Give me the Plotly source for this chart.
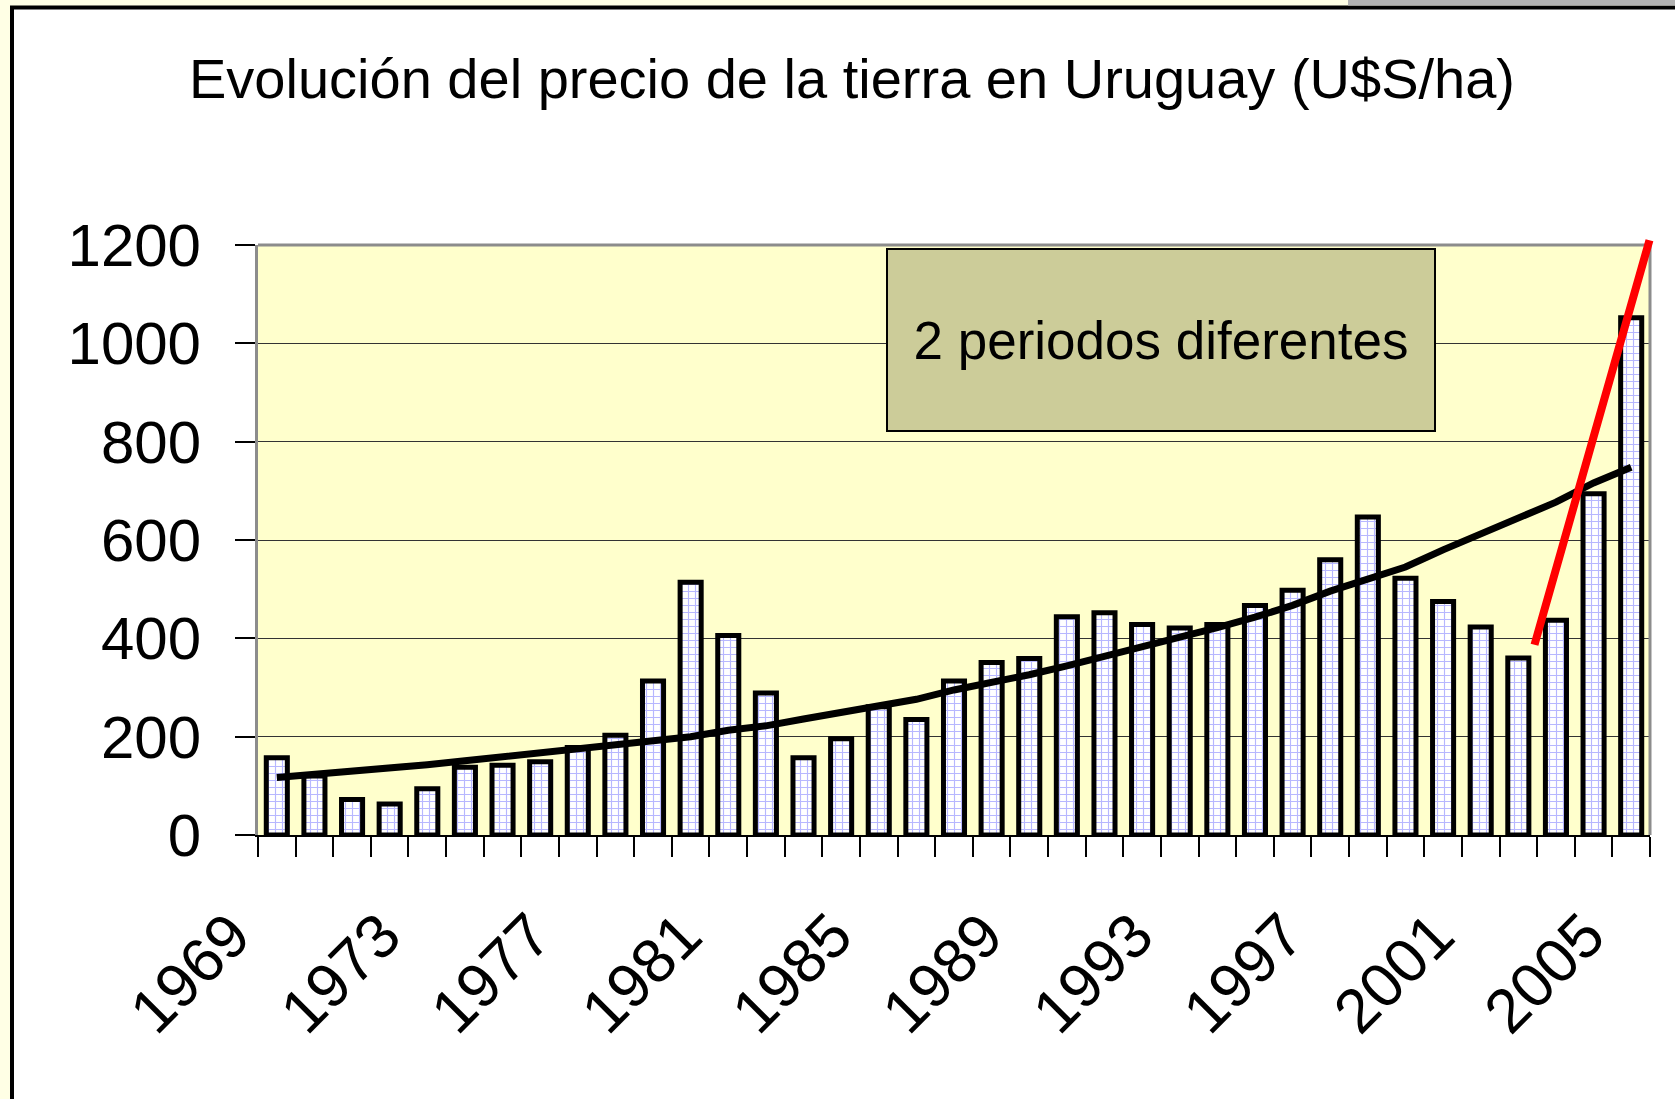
import plotly.graph_objects as go

# ---- data ----
years = list(range(1969, 2006))
precio = [157, 120, 72, 63, 94, 138, 142, 149, 178, 203,
          313, 514, 406, 289, 157, 196, 261, 235, 313, 351,
          359, 444, 452, 428, 421, 428, 467, 498, 560, 647,
          522, 475, 423, 360, 437, 694, 1052]
tendencia = [117, 123, 130, 137, 143, 151, 159, 167, 175, 184,
             189, 200, 213, 222, 236, 250, 264, 276, 295, 310,
             326, 344, 363, 382, 403, 422, 443, 467, 496, 521,
             545, 580, 612, 643, 677, 716, 748]
label_years = list(range(1969, 2006, 4))
y_ticks = [0, 200, 400, 600, 800, 1000, 1200]
red_x = [2002.43, 2005.55]
red_y = [387, 1227]

title = "Evolución del precio de la tierra en Uruguay (U$S/ha)"
box_text = "2 periodos diferentes"

W, H = 1675, 1099
ML, MR, MT, MB = 258, 25, 245, 264
PW, PH = W - ML - MR, H - MT - MB


def px(x):
    return (x - ML) / PW


def py(y):
    return (H - MB - y) / PH


FONT = "Liberation Sans, Arial, sans-serif"

fig = go.Figure()
fig.add_trace(go.Bar(
    x=years, y=precio,
    marker=dict(
        color="white",
        line=dict(color="black", width=5),
        pattern=dict(shape="+", fgcolor="#6f6fff", bgcolor="white",
                     size=7, solidity=0.3),
    ),
    showlegend=False,
))
fig.add_trace(go.Scatter(
    x=years, y=tendencia, mode="lines",
    line=dict(color="black", width=7),
    showlegend=False,
))

shapes = [
    # slide frame
    dict(type="rect", xref="paper", yref="paper", layer="below",
         x0=px(12), x1=px(1720), y0=py(1200), y1=py(7.5),
         fillcolor="white", line=dict(color="black", width=4)),
    # grey strip top right
    dict(type="rect", xref="paper", yref="paper", layer="below",
         x0=px(1348), x1=px(1720), y0=py(5.5), y1=py(-20),
         fillcolor="#B2B2B2", line=dict(width=0)),
    # plot area fill
    dict(type="rect", xref="paper", yref="paper", layer="below",
         x0=0, x1=1, y0=0, y1=1,
         fillcolor="#FFFFCC", line=dict(width=0)),
    # plot area grey border (top + right)
    dict(type="line", xref="paper", yref="paper", layer="above",
         x0=0, x1=1, y0=1, y1=1, line=dict(color="#8c8c8c", width=3)),
    dict(type="line", xref="paper", yref="paper", layer="above",
         x0=1, x1=1, y0=0, y1=1, line=dict(color="#8c8c8c", width=3)),
]

annotations = [
    dict(xref="paper", yref="paper", x=px(1160.6), y=py(339.7),
         xanchor="center", yanchor="middle",
         text=box_text, showarrow=False,
         font=dict(family=FONT, size=53, color="black"),
         width=546, height=180, bgcolor="#CCCC99",
         bordercolor="black", borderwidth=2, borderpad=0),
    dict(xref="x", yref="y", axref="x", ayref="y",
         x=red_x[0], y=red_y[0], ax=red_x[1], ay=red_y[1],
         text=" ", showarrow=True, arrowhead=0, arrowwidth=8,
         arrowcolor="#FF0000", standoff=0, startstandoff=0),
]

fig.update_layout(
    width=W, height=H,
    margin=dict(l=ML, r=MR, t=MT, b=MB, pad=0),
    paper_bgcolor="#FFFFE5",
    plot_bgcolor="rgba(0,0,0,0)",
    font=dict(family=FONT, color="black"),
    title=dict(text=title, x=852 / W, xanchor="center",
               y=1 - 78 / H, yanchor="middle", yref="container",
               font=dict(family=FONT, size=56, color="black")),
    bargap=0.44,
    shapes=shapes,
    annotations=annotations,
    xaxis=dict(
        range=[1968.5, 2005.5],
        tickmode="array", tickvals=label_years,
        ticktext=[str(y) for y in label_years],
        tickangle=-45, ticks="",
        ticklabelshift=-45, ticklabelstandoff=37,
        tickfont=dict(family=FONT, size=62, color="black"),
        showgrid=False, zeroline=False,
        showline=True, linecolor="black", linewidth=2,
        minor=dict(ticks="outside", tick0=1968.5, dtick=1,
                   ticklen=20, tickwidth=1.5, tickcolor="black",
                   showgrid=False),
    ),
    yaxis=dict(
        range=[0, 1200],
        tickmode="array", tickvals=y_ticks,
        ticks="outside", ticklen=20, tickwidth=1.5, tickcolor="black",
        ticklabelstandoff=22,
        tickfont=dict(family=FONT, size=60, color="black"),
        showgrid=True, gridcolor="#333333", gridwidth=1,
        zeroline=False,
        showline=True, linecolor="#8c8c8c", linewidth=3,
    ),
)

fig.write_html(
    "out.html",
    config={"displayModeBar": False},
    post_script="document.body.style.margin='0';"
                "document.body.style.background='#FFFFE5';",
)
